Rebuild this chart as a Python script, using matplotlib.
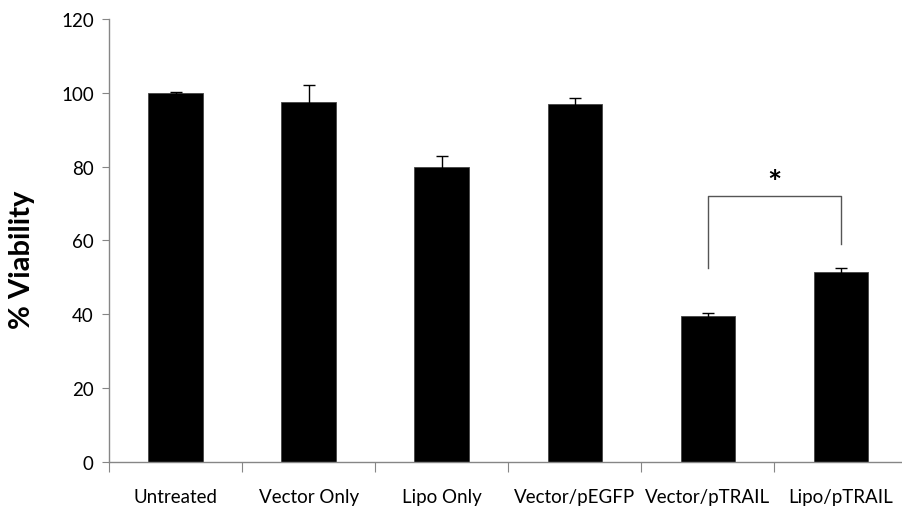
import matplotlib.pyplot as plt
import numpy as np

plt.rcParams['font.family'] = ['Lato', 'DejaVu Sans']

categories = ["Untreated", "Vector Only", "Lipo Only", "Vector/pEGFP", "Vector/pTRAIL", "Lipo/pTRAIL"]
viability = [100.0, 97.5, 80.0, 97.0, 39.5, 51.5]
errors = [0.3, 4.5, 3.0, 1.5, 1.0, 1.1]
yticks = [0, 20, 40, 60, 80, 100, 120]

AXIS = "#868686"

fig = plt.figure(figsize=(9.02, 5.10), dpi=100)
ax = fig.add_axes([0.121, 0.092, 0.885, 0.869])

x = np.arange(len(categories))
ax.bar(x, viability, width=0.41, color="black", edgecolor="#444444", linewidth=0.6, zorder=2)
ax.errorbar(x, viability, yerr=errors, fmt="none", ecolor="black", elinewidth=1.0,
            capsize=4, capthick=1.0, zorder=3)

# significance bracket between the two pTRAIL groups
i, j = 4, 5
ax.plot([x[i], x[i], x[j], x[j]], [52.5, 72, 72, 59], color="#555555", lw=1.0, zorder=3)
ax.text((x[i] + x[j]) / 2, 71.5, "*", ha="center", va="bottom", fontsize=24, weight="bold")

ax.set_xlim(-0.5, len(categories) - 0.5)
ax.set_ylim(0, 120)
ax.set_yticks(yticks)
ax.tick_params(axis="y", direction="out", length=5, color=AXIS, labelsize=13.5, pad=6)

# category labels centred, tick marks on the boundaries
ax.set_xticks(np.arange(len(categories) + 1) - 0.5)
ax.set_xticklabels([])
ax.set_xticks(x, minor=True)
ax.set_xticklabels(categories, minor=True, fontsize=13.5)
ax.tick_params(axis="x", which="major", direction="out", length=7, color=AXIS)
ax.tick_params(axis="x", which="minor", length=0, pad=19)

for side in ("top", "right"):
    ax.spines[side].set_visible(False)
for side in ("left", "bottom"):
    ax.spines[side].set_color(AXIS)
    ax.spines[side].set_linewidth(1.0)

fig.text(22 / 902, 1 - 260 / 510, "% Viability", rotation=90, ha="center", va="center",
         fontsize=21, weight="bold")

fig.savefig("out.png", dpi=100, facecolor="white")
